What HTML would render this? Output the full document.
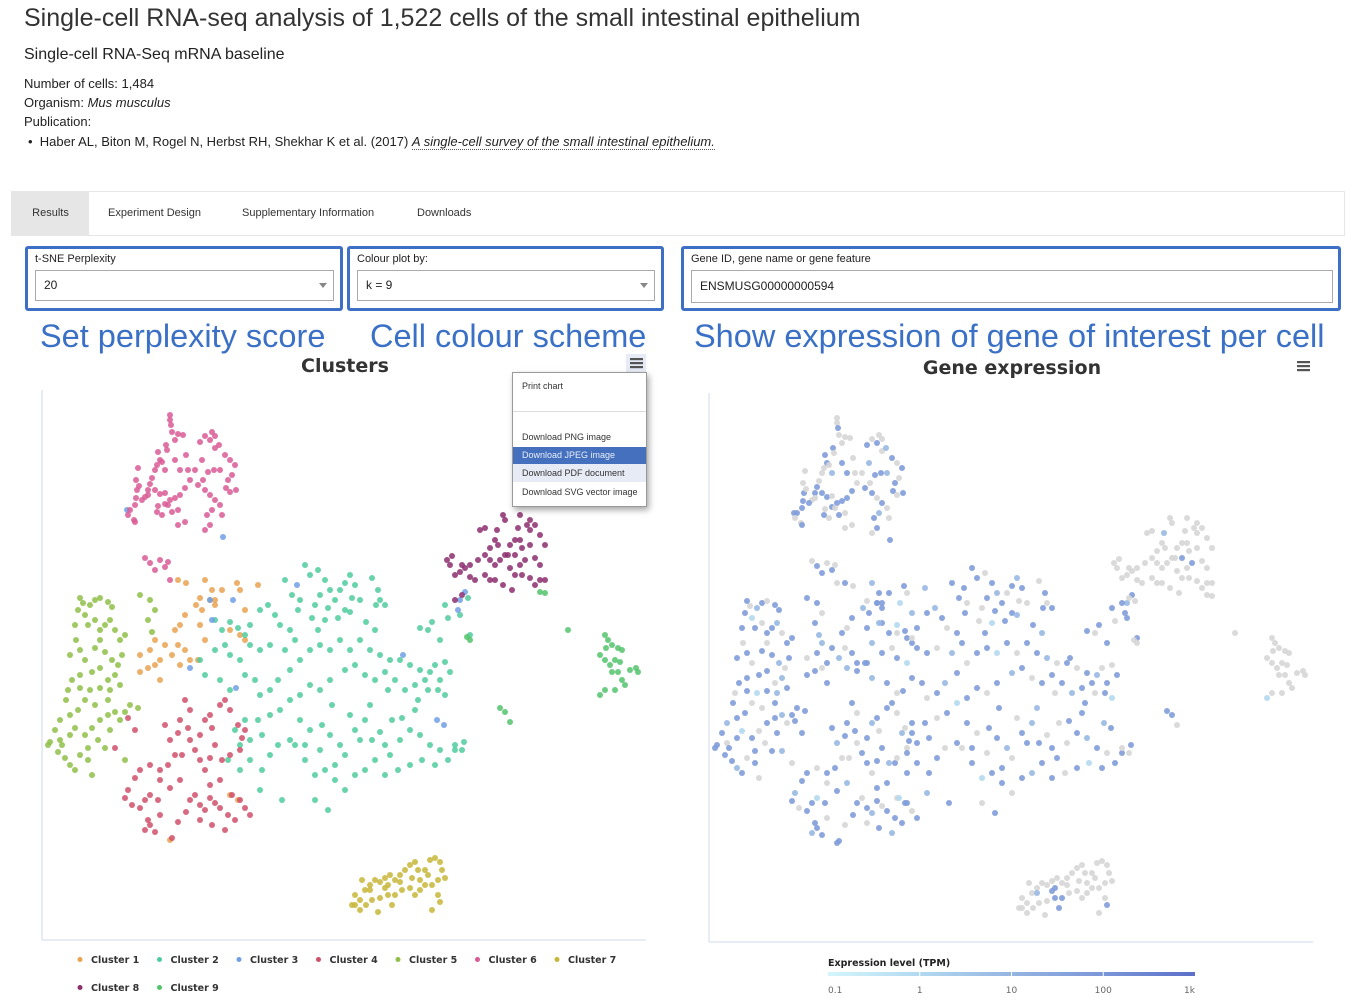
<!DOCTYPE html>
<html><head><meta charset="utf-8">
<style>
body{margin:0;width:1360px;height:1000px;background:#fff;font-family:"Liberation Sans",Arial,sans-serif;color:#333;position:relative;overflow:hidden}
.abs{position:absolute;white-space:nowrap}
.tabs{position:absolute;left:11px;top:191px;width:1334px;height:45px;border:1px solid #e6e6e6;box-sizing:border-box}
.tab{position:absolute;top:0;height:43px;line-height:43px;font-size:11px;color:#333}
.box{position:absolute;border:3px solid #3d70c4;border-radius:3px;box-sizing:border-box}
.lbl{position:absolute;left:7px;top:4px;font-size:11px;color:#222}
.sel{position:absolute;left:7px;top:21px;height:31px;border:1px solid #aaa;box-sizing:border-box;font-size:12px;line-height:29px;padding-left:8px;color:#222;background:#fff}
.arrow{position:absolute;right:6px;top:12px;width:0;height:0;border-left:4px solid transparent;border-right:4px solid transparent;border-top:5px solid #888}
.ann{position:absolute;font-size:32.5px;color:#3a70c6;top:318px;white-space:nowrap}
</style></head><body>
<div class="abs" style="left:24px;top:4px;font-size:25px;color:#333">Single-cell RNA-seq analysis of 1,522 cells of the small intestinal epithelium</div>
<div class="abs" style="left:24px;top:46px;font-size:16px;color:#222">Single-cell RNA-Seq mRNA baseline</div>
<div class="abs" style="left:24px;top:76px;font-size:13px;color:#222">Number of cells: 1,484</div>
<div class="abs" style="left:24px;top:95px;font-size:13px;color:#222">Organism: <i>Mus musculus</i></div>
<div class="abs" style="left:24px;top:114px;font-size:13px;color:#222">Publication:</div>
<div class="abs" style="left:28px;top:134px;font-size:13px;color:#222">• &nbsp;Haber AL, Biton M, Rogel N, Herbst RH, Shekhar K et al. (2017) <i style="border-bottom:1px dotted #555">A single-cell survey of the small intestinal epithelium.</i></div>

<div class="tabs">
 <div class="tab" style="left:0;width:77px;background:#e6e6e6;text-align:center">Results</div>
 <div class="tab" style="left:96px">Experiment Design</div>
 <div class="tab" style="left:230px">Supplementary Information</div>
 <div class="tab" style="left:405px">Downloads</div>
</div>

<div class="box" style="left:25px;top:246px;width:318px;height:65px">
 <div class="lbl">t-SNE Perplexity</div>
 <div class="sel" style="width:299px">20<div class="arrow"></div></div>
</div>
<div class="box" style="left:347px;top:246px;width:317px;height:65px">
 <div class="lbl">Colour plot by:</div>
 <div class="sel" style="width:298px">k = 9<div class="arrow"></div></div>
</div>
<div class="box" style="left:681px;top:246px;width:660px;height:65px">
 <div class="lbl">Gene ID, gene name or gene feature</div>
 <div class="sel" style="width:642px;height:33px;line-height:31px">ENSMUSG00000000594</div>
</div>

<div class="ann" style="left:40px">Set perplexity score</div>
<div class="ann" style="left:370px">Cell colour scheme</div>
<div class="ann" style="left:694px">Show expression of gene of interest per cell</div>

<svg id="charts" class="abs" style="left:0;top:0" width="1360" height="1000"></svg>

<div class="abs" style="left:512px;top:372px;width:133px;height:133px;background:#fff;border:1px solid #999;box-shadow:2px 3px 6px rgba(0,0,0,.35);font-size:9px;color:#333">
 <div style="position:absolute;left:9px;top:8px">Print chart</div>
 <div style="position:absolute;left:0;right:0;top:38px;border-top:1px solid #ddd"></div>
 <div style="position:absolute;left:9px;top:59px">Download PNG image</div>
 <div style="position:absolute;left:0;right:0;top:74px;height:17px;line-height:17px;padding-left:9px;background:#4470bd;color:#e8eefa">Download JPEG image</div>
 <div style="position:absolute;left:0;right:0;top:91px;height:18px;line-height:18px;padding-left:9px;background:#e6ebf5">Download PDF document</div>
 <div style="position:absolute;left:9px;top:114px">Download SVG vector image</div>
</div>

<script>
// t-SNE coordinates [x, y, expressionTPM] per cluster (0 TPM = not expressed)
const clusterNames = ["Cluster 1","Cluster 2","Cluster 3","Cluster 4","Cluster 5","Cluster 6","Cluster 7","Cluster 8","Cluster 9"];
const clusterColors = ["#e9a251","#4fcc9e","#6f9fe6","#d0506a","#8fbf48","#da5a95","#c8b638","#8c2e6e","#52c46c"];
const c1 = [178,580,60,186,583,0,205,580,8,212,590,60,210,600,60,200,598,0,196,605,8,202,610,60,185,615,60,180,625,0,175,630,60,165,645,60,172,655,8,160,660,60,155,665,0,148,668,60,140,672,60,155,640,8,150,650,60,178,645,0,185,650,60,190,660,60,180,665,8,160,680,60,140,655,0,200,625,60,215,600,60,230,630,0,240,635,60,245,610,8,238,800,60,230,795,0,170,840,60,245,640,60,258,585,8,237,583,60,240,590,0,222,590,60,215,605,60,205,640,8,198,660,60];
const c2 = [305,565,60,310,575,60,318,570,0,325,580,60,330,590,8,320,595,60,315,605,0,328,608,60,335,600,60,340,590,0,345,583,60,350,575,8,355,585,60,352,598,0,345,610,60,338,618,60,325,620,1,318,630,60,300,600,0,292,595,60,285,580,60,350,612,8,372,578,0,378,590,60,376,605,60,360,600,0,366,622,60,375,630,8,298,610,60,312,618,0,
215,620,60,222,630,60,230,622,1,238,628,60,245,635,0,250,625,60,260,610,60,268,605,8,275,615,60,280,625,0,290,630,60,295,640,60,285,650,8,270,645,0,260,650,60,250,645,60,240,660,1,230,655,60,225,645,0,215,650,60,200,660,60,205,675,8,220,680,60,230,690,0,245,675,60,255,680,60,260,695,0,270,690,60,278,680,8,290,670,60,300,660,0,310,650,60,320,645,60,330,650,1,340,640,60,350,650,0,360,640,60,370,650,60,380,655,8,390,660,0,385,672,60,375,680,60,365,675,0,355,665,60,345,670,8,330,680,60,320,690,0,310,685,60,300,695,60,290,700,1,280,710,60,270,715,0,258,720,60,245,720,60,235,730,8,240,745,0,250,740,60,262,735,60,
400,660,60,410,665,0,420,670,60,425,680,60,430,672,8,435,665,0,440,680,60,438,690,60,428,690,0,415,685,60,405,690,8,395,680,60,388,690,0,418,700,60,445,695,1,445,662,0,450,672,60,
300,720,60,310,730,0,322,725,60,330,735,60,340,745,8,345,755,0,335,765,60,325,770,60,315,775,1,305,760,60,295,745,0,290,740,60,305,745,60,320,750,0,355,730,60,365,720,8,372,740,60,380,732,0,385,745,60,390,755,60,400,740,0,410,730,60,420,735,8,430,745,60,440,750,0,455,750,60,462,750,0,448,760,60,435,765,60,422,760,1,410,765,60,398,770,0,385,775,60,375,760,60,365,770,8,355,775,60,345,790,0,335,780,60,360,740,60,392,720,0,402,718,60,415,710,60,370,705,8,350,715,0,332,705,60,282,800,60,315,800,0,328,810,60,262,770,60,278,745,0,270,755,60,260,790,8,250,760,60,240,770,60,455,745,0,464,742,60,228,760,60,
420,628,60,428,630,0,432,622,60,445,605,60,448,618,0,440,640,60,470,635,60,468,598,0,460,615,60,380,600,0,385,605,60];
const c3 = [127,510,60,223,537,60,460,600,8,465,592,60,458,610,60,403,655,60,437,720,8,444,725,60,210,600,60,233,600,1,297,585,60,236,688,60,190,668,60,212,620,8];
const c4 = [185,700,60,190,710,0,180,720,60,178,733,60,170,740,8,175,755,0,168,765,60,160,770,60,150,765,0,140,770,60,135,778,60,128,790,8,125,798,60,132,805,0,140,808,60,145,800,60,150,795,1,158,800,60,160,815,0,148,820,60,150,825,60,145,830,8,155,832,60,172,838,60,178,822,0,186,812,60,190,800,60,195,795,0,200,805,60,205,810,8,210,798,60,215,803,0,220,808,60,228,815,60,232,795,1,240,800,60,245,808,0,250,815,60,235,820,60,200,820,0,212,825,60,225,830,8,210,785,60,205,770,0,200,760,60,195,750,60,190,740,0,188,728,60,205,720,8,210,715,60,212,728,0,220,705,60,225,700,60,230,710,0,215,745,60,210,758,60,222,760,8,230,755,0,240,750,60,242,738,60,238,725,0,245,730,60,220,780,60,180,780,8,170,788,60,160,780,0,200,735,60,165,725,60,182,755,0,135,730,60,128,718,60,115,748,8];
const c5 = [80,598,60,83,603,0,78,610,60,90,605,8,95,600,60,100,598,0,108,602,60,112,607,60,85,615,1,88,625,60,95,620,0,100,630,60,105,625,60,110,620,8,115,630,0,120,640,60,125,635,60,100,640,0,95,648,60,105,652,60,112,660,8,118,665,0,122,655,60,75,625,60,76,640,0,80,650,60,70,655,60,115,675,8,108,680,0,100,668,60,92,672,60,85,660,0,140,595,60,150,600,60,155,610,0,148,620,60,152,632,8,80,675,60,72,680,60,68,690,0,66,700,60,80,688,60,90,690,1,100,688,60,85,700,0,78,710,60,70,715,60,60,720,8,55,730,60,50,742,60,48,745,60,60,740,0,58,752,60,65,758,60,70,765,8,75,770,60,80,755,0,88,748,60,85,735,60,92,728,0,100,720,60,108,715,60,115,712,8,120,720,0,125,712,60,130,705,60,98,740,0,105,748,60,88,760,60,92,775,0,110,730,60,75,728,1,62,745,60,70,735,60,125,760,0,108,700,60,110,690,8,120,685,60,95,705,0,138,708,60];
const c6 = [170,415,0,170,420,0,171,425,60,172,432,0,175,440,0,178,434,0,183,435,0,166,445,60,167,450,0,158,452,60,160,460,60,157,465,0,155,470,0,162,462,0,165,470,8,152,478,0,150,484,60,148,490,60,145,497,0,136,480,0,137,490,60,136,498,60,135,505,60,130,510,60,128,515,0,134,520,0,135,522,60,138,468,0,139,486,0,142,500,60,148,495,0,155,490,60,160,494,60,165,493,0,170,500,60,165,504,60,158,506,0,157,512,60,162,515,0,168,505,0,175,498,60,178,510,0,180,495,60,185,488,60,190,480,0,195,470,0,202,460,8,200,442,60,205,436,0,212,432,0,210,440,60,215,436,0,215,448,0,219,445,8,225,455,60,230,460,0,235,465,60,232,475,0,228,480,60,226,488,60,230,492,0,236,490,60,220,470,8,214,470,60,208,472,60,203,480,0,198,485,60,205,490,60,210,495,0,215,500,60,212,510,8,207,515,60,210,525,60,205,530,0,220,505,0,222,515,0,185,522,0,178,525,0,172,512,60,188,470,0,180,470,60,186,455,0,175,460,60,
150,563,60,160,560,0,165,567,60,145,558,0,155,570,60,168,562,0,170,580,0];
const c7 = [355,895,0,360,900,0,355,905,0,365,890,0,370,885,0,375,880,0,380,882,0,385,878,0,390,875,0,395,880,0,400,875,0,405,870,0,410,865,0,415,862,0,418,870,0,425,870,0,430,860,0,435,858,0,440,862,0,442,870,0,445,878,0,438,880,0,432,885,0,425,885,0,420,890,0,410,888,0,402,890,0,395,895,60,388,895,60,380,898,0,372,900,0,366,905,0,360,910,0,370,890,8,385,888,60,400,882,0,412,878,0,438,895,0,440,902,60,432,910,0,378,912,0,392,905,60,420,880,0,428,875,0,415,895,0,362,880,0,352,905,0,388,885,60];
const c8 = [503,515,0,505,520,0,520,515,0,530,520,0,527,525,0,518,528,0,530,530,0,535,525,0,540,535,0,545,545,0,530,545,0,522,548,0,515,540,0,510,545,0,505,555,0,500,560,0,495,565,0,490,560,0,485,555,0,478,560,0,470,565,0,465,568,0,460,572,0,455,575,0,450,565,0,447,560,0,452,556,0,462,565,0,497,530,8,495,540,0,490,548,0,495,580,0,503,585,0,512,590,0,515,575,0,522,575,0,530,578,0,535,585,0,540,580,0,545,580,0,485,575,0,490,580,0,510,568,0,520,565,0,525,560,60,520,540,0,470,577,0,475,580,0,455,600,60,462,595,0,480,530,0,485,528,0,498,545,0,508,555,0,515,555,60,535,558,0,540,565,0];
const c9 = [605,635,0,608,640,0,606,648,0,612,645,0,618,648,0,622,650,0,600,655,0,605,660,0,610,665,0,615,660,0,620,662,0,618,672,0,612,672,0,622,680,0,630,670,0,636,668,0,638,672,0,625,685,0,615,690,0,605,690,0,600,695,1,568,630,0,500,708,60,505,712,60,510,722,0,467,637,0,470,640,0,540,592,0,545,593,0];
const clusterPoints = [c1,c2,c3,c4,c5,c6,c7,c8,c9];
const expressionTicks = ["0.1","1","10","100","1k"];
const expressionTickValues = [0.1,1,10,100,1000];
const expressionStops = ["#d4f6fb","#b2d9f0","#95b5e2","#7b96d8","#5c6fc9"];

const NS="http://www.w3.org/2000/svg";
const svg=document.getElementById('charts');
function mk(tag,attrs,parent){const e=document.createElementNS(NS,tag);for(const k in attrs)e.setAttribute(k,attrs[k]);(parent||svg).appendChild(e);return e;}
const xDomain=[42,646], yDomain=[390,940];
function makeScale(d,r){return v=>r[0]+(v-d[0])/(d[1]-d[0])*(r[1]-r[0]);}
const leftX=makeScale(xDomain,[42,646]), leftY=makeScale(yDomain,[390,940]);
const rightX=makeScale(xDomain,[709,1313]), rightY=makeScale(yDomain,[393,943]);
function hex(c){return [1,3,5].map(i=>parseInt(c.substr(i,2),16));}
function expColor(v){
  if(!v) return "#d6d6d6";
  let t=(Math.log10(v)+1); t=Math.max(0,Math.min(3.999,t));
  const i=Math.floor(t), f=t-i, a=hex(expressionStops[i]), b=hex(expressionStops[i+1]);
  return "rgb("+a.map((x,k)=>Math.round(x+(b[k]-x)*f)).join(",")+")";
}
const font='"DejaVu Sans","Liberation Sans",sans-serif';

let ax;
ax=mk('line',{x1:42,y1:390,x2:42,y2:940,stroke:'#dfe5f2','stroke-width':1.5});


ax=mk('line',{x1:42,y1:940,x2:646,y2:940,stroke:'#dfe5f2','stroke-width':1.5});


ax=mk('line',{x1:709,y1:393,x2:709,y2:942,stroke:'#dfe5f2','stroke-width':1.5});


ax=mk('line',{x1:709,y1:942,x2:1313,y2:942,stroke:'#dfe5f2','stroke-width':1.5});



let t=mk('text',{x:345,y:372,'text-anchor':'middle','font-size':19,'font-weight':'bold',fill:'#333','font-family':font});
t.textContent='Clusters';


t=mk('text',{x:1012,y:374,'text-anchor':'middle','font-size':19,'font-weight':'bold',fill:'#333','font-family':font});
t.textContent='Gene expression';



[[628,355,'clusters-menu-button',true],[1295,358,'expression-menu-button',false]].forEach(([x,y,n,bg])=>{
  const g=mk('g',{});
  
  
  if(bg) mk('rect',{x:x-2,y:y-1,width:20,height:18,fill:'#e6ebf5'},g);
  [4,8,12].forEach(d=>mk('rect',{x:x+2,y:y+d-1,width:13,height:2.2,fill:'#555'},g));
});

const gL=mk('g',{});


const gR=mk('g',{});


clusterPoints.forEach((pts,ci)=>{
  for(let i=0;i+1<pts.length;i+=3){
    const p=mk('circle',{cx:leftX(pts[i]),cy:leftY(pts[i+1]),r:3,fill:clusterColors[ci],'fill-opacity':0.85},gL);
    
    
    const q=mk('circle',{cx:rightX(pts[i]),cy:rightY(pts[i+1]),r:3,fill:expColor(pts[i+2]),'fill-opacity':0.9},gR);
    
    
  }
});

clusterNames.forEach((n,i)=>{
  const row=i<7?0:1, col=i<7?i:i-7;
  const x=80+col*79.5, y=row?991:963;
  const g=mk('g',{});
  
  
  mk('circle',{cx:x,cy:y-3.5,r:2.5,fill:clusterColors[i]},g);
  const tx=mk('text',{x:x+11,y:y,'font-size':9.5,'font-weight':'bold',fill:'#333','font-family':font},g);
  tx.textContent=n;
});

t=mk('text',{x:828,y:966,'font-size':9.5,'font-weight':'bold',fill:'#222','font-family':font});
t.textContent='Expression level (TPM)';


const defs=mk('defs',{});
const lg=mk('linearGradient',{id:'cb',x1:0,x2:1,y1:0,y2:0},defs);
expressionStops.forEach((c,i)=>mk('stop',{offset:i/(expressionStops.length-1),'stop-color':c},lg));
const cbX=makeScale([-1,3],[828,1195]);
const cb=mk('rect',{x:828,y:972,width:367,height:4,fill:'url(#cb)'});


expressionTicks.forEach((lab,i)=>{
  const x=cbX(Math.log10(expressionTickValues[i]));
  const a=i===0?'start':(i===expressionTicks.length-1?'end':'middle');
  const tt=mk('text',{x:x,y:993,'text-anchor':a,'font-size':9,fill:'#666','font-family':font});
  tt.textContent=lab;
  
  
  if(i>0&&i<expressionTicks.length-1) mk('line',{x1:x,y1:971,x2:x,y2:977,stroke:'#fff','stroke-width':1});
});
</script>
</body></html>
